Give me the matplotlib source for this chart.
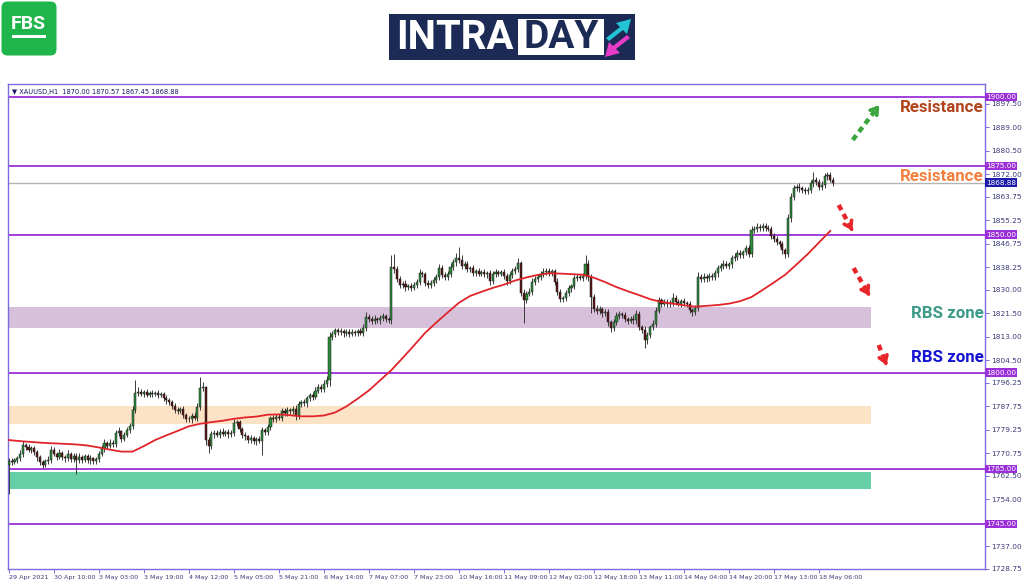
import numpy as np
import matplotlib
matplotlib.use("Agg")
import matplotlib.pyplot as plt
from matplotlib.patches import Rectangle, FancyBboxPatch, Polygon

# ---------------------------------------------------------------- data
# hourly closes of XAUUSD, one row = 16 bars (one x label step)
closes = [
    1768.0, 1767.5, 1768.3, 1768.8, 1770.5, 1773.6, 1773.0, 1772.0, 1772.6, 1771.0, 1769.2, 1767.4, 1766.6, 1767.8, 1768.4, 1772.0,
    1770.6, 1769.4, 1770.8, 1769.2, 1768.9, 1770.6, 1768.7, 1769.8, 1768.2, 1769.5, 1768.4, 1769.6, 1768.1, 1768.9, 1767.8, 1768.6,
    1770.4, 1772.5, 1774.4, 1773.4, 1774.6, 1774.0, 1777.9, 1778.6, 1776.0, 1777.4, 1779.0, 1780.6, 1786.4, 1792.6, 1792.9, 1792.3,
    1792.8, 1792.0, 1792.6, 1792.2, 1792.7, 1791.9, 1792.1, 1790.8, 1789.9, 1789.2, 1788.0, 1786.3, 1786.0, 1786.8, 1784.6, 1783.2,
    1783.0, 1784.4, 1783.5, 1787.5, 1794.4, 1794.7, 1775.5, 1773.4, 1777.6, 1778.2, 1777.4, 1778.5, 1777.8, 1778.4, 1777.6, 1778.2,
    1781.7, 1781.9, 1779.6, 1777.2, 1776.8, 1775.4, 1776.2, 1775.0, 1775.8, 1775.3, 1779.0, 1778.4, 1780.2, 1783.4, 1783.0, 1784.0,
    1783.6, 1786.1, 1785.4, 1786.5, 1786.0, 1786.8, 1784.2, 1788.6, 1789.3, 1788.8, 1790.6, 1791.8, 1791.2, 1793.4, 1794.8, 1794.1,
    1796.0, 1797.2, 1812.9, 1814.0, 1815.3, 1814.6, 1815.0, 1814.2, 1814.8, 1814.0, 1814.6, 1814.3, 1814.9, 1814.5, 1816.2, 1820.3,
    1819.6, 1818.7, 1819.5, 1818.9, 1819.8, 1820.4, 1819.3, 1819.0, 1838.3, 1837.4, 1834.0, 1831.6, 1832.3, 1830.9, 1831.5, 1830.8,
    1831.8, 1832.9, 1836.0, 1835.6, 1832.6, 1831.8, 1832.5, 1833.4, 1834.5, 1838.0, 1835.4, 1834.8, 1835.6, 1838.2, 1840.0, 1841.6,
    1841.0, 1838.6, 1839.4, 1837.4, 1837.9, 1836.2, 1836.8, 1835.9, 1836.4, 1835.7, 1836.2, 1833.1, 1835.8, 1836.4, 1835.9, 1836.3,
    1835.1, 1833.2, 1835.4, 1836.8, 1837.5, 1839.6, 1829.0, 1826.3, 1828.6, 1829.4, 1832.8, 1834.0, 1834.6, 1835.8, 1836.5, 1837.0,
    1836.2, 1836.7, 1833.0, 1829.4, 1826.6, 1826.9, 1828.8, 1830.6, 1831.4, 1834.2, 1834.8, 1834.3, 1835.0, 1839.2, 1834.5, 1827.4,
    1823.2, 1822.4, 1823.0, 1821.5, 1822.0, 1818.2, 1816.0, 1818.4, 1820.6, 1821.2, 1820.8, 1819.4, 1818.8, 1819.6, 1818.9, 1821.2,
    1816.4, 1815.6, 1811.8, 1813.5, 1816.4, 1817.6, 1822.5, 1826.2, 1825.0, 1825.6, 1824.8, 1825.4, 1827.2, 1825.6, 1825.0, 1825.8,
    1825.2, 1824.8, 1822.6, 1821.8, 1823.4, 1834.7, 1834.0, 1834.8, 1834.2, 1835.0, 1834.5, 1836.0, 1837.8, 1838.6, 1839.4, 1838.8,
    1839.2, 1841.4, 1842.0, 1843.2, 1842.6, 1843.6, 1845.2, 1843.0, 1851.7, 1852.0, 1852.8, 1852.4, 1853.2, 1852.6, 1852.2, 1849.6,
    1848.4, 1847.2, 1846.5, 1844.4, 1843.0, 1856.0, 1863.7, 1867.0, 1867.5, 1866.8, 1866.2, 1865.8, 1866.4, 1868.6, 1869.8, 1869.2,
    1867.4, 1868.0, 1871.2, 1871.6, 1870.0, 1868.88,
]
first_open = 1766.5

# wick lengths above / below the body
up_wick = [
    0.8, 1.1, 0.6, 0.9, 1.3, 1.4, 0.7, 1.0, 0.8, 0.6, 0.9, 0.7, 1.0, 0.8, 1.2, 1.5,
    0.9, 0.7, 1.3, 0.8, 1.0, 1.4, 0.6, 1.1, 0.9, 1.2, 0.7, 1.0, 0.8, 1.3, 0.6, 0.9,
    1.0, 1.2, 1.5, 0.8, 1.1, 0.9, 1.4, 1.6, 0.7, 1.0, 1.3, 1.2, 1.5, 4.7, 2.0, 1.1,
    0.9, 1.2, 0.8, 1.0, 0.7, 1.1, 0.9, 0.8, 1.2, 0.7, 1.0, 0.9, 1.3, 0.8, 1.0, 0.7,
    1.1, 0.9, 1.2, 1.6, 4.0, 2.0, 0.5, 1.2, 1.0, 0.8, 1.1, 0.9, 1.2, 0.7, 1.0, 0.8,
    1.3, 1.0, 0.9, 0.8, 1.1, 0.7, 1.0, 0.9, 0.8, 1.2, 1.4, 1.0, 1.1, 0.9, 1.3, 0.8,
    1.0, 1.2, 0.9, 1.1, 0.8, 1.0, 1.3, 1.1, 0.9, 1.2, 1.0, 0.8, 1.1, 1.3, 0.9, 1.0,
    1.2, 1.4, 1.8, 1.2, 1.0, 0.9, 1.1, 0.8, 1.0, 0.9, 1.2, 0.8, 1.0, 1.1, 1.4, 1.6,
    1.0, 0.9, 1.2, 0.8, 1.1, 1.3, 0.9, 1.0, 4.3, 4.6, 1.2, 1.0, 0.9, 1.1, 0.8, 1.0,
    1.2, 1.1, 1.4, 1.0, 0.9, 1.1, 1.0, 1.2, 1.3, 1.5, 1.0, 0.9, 1.2, 1.4, 1.3, 1.6,
    4.0, 1.8, 1.2, 1.0, 0.9, 1.1, 0.8, 1.0, 0.9, 1.2, 0.8, 1.0, 1.1, 1.3, 0.9, 1.0,
    1.1, 0.9, 1.2, 1.3, 1.0, 1.9, 1.0, 1.3, 1.1, 1.2, 1.4, 1.0, 1.1, 1.2, 1.3, 1.0,
    1.1, 0.9, 1.0, 1.2, 0.8, 1.0, 1.1, 1.3, 0.9, 1.2, 1.0, 0.8, 1.2, 3.3, 1.5, 1.2,
    1.1, 1.4, 1.0, 0.9, 1.2, 1.0, 0.8, 1.1, 1.3, 1.0, 0.9, 1.2, 0.8, 1.0, 1.1, 1.4,
    1.0, 0.9, 1.2, 1.1, 1.0, 1.3, 1.4, 1.2, 1.0, 1.1, 0.9, 1.0, 1.5, 1.1, 0.9, 1.0,
    1.2, 0.8, 1.0, 0.9, 1.1, 1.6, 1.0, 1.2, 0.9, 1.1, 1.0, 1.3, 1.2, 1.0, 1.4, 1.1,
    1.0, 1.3, 1.2, 1.1, 1.4, 1.0, 1.2, 1.0, 1.5, 1.1, 1.3, 1.0, 1.2, 0.9, 1.0, 1.1,
    0.9, 1.2, 1.0, 1.1, 0.8, 1.4, 1.6, 1.2, 1.0, 1.1, 0.9, 1.2, 1.0, 1.3, 3.0, 1.2,
    1.1, 1.4, 1.2, 1.0, 1.3, 0.9,
]
dn_wick = [
    10.5, 0.9, 0.7, 1.1, 0.8, 1.0, 1.2, 0.9, 1.1, 0.8, 1.3, 1.0, 1.2, 0.8, 0.9, 1.1,
    1.0, 1.2, 0.8, 1.1, 1.3, 0.9, 1.0, 1.2, 5.2, 0.9, 1.1, 0.8, 1.0, 1.2, 0.9, 1.1,
    1.0, 0.8, 1.2, 1.1, 0.9, 1.0, 1.2, 0.8, 1.3, 1.0, 0.9, 1.1, 1.2, 1.0, 1.3, 0.9,
    1.1, 0.8, 1.0, 1.2, 0.9, 1.1, 0.8, 1.0, 1.3, 0.9, 1.1, 1.0, 1.2, 0.8, 1.1, 1.3,
    1.0, 1.2, 0.9, 1.1, 1.0, 1.2, 1.8, 2.6, 1.0, 1.2, 0.9, 1.1, 1.0, 0.8, 1.2, 0.9,
    1.1, 1.0, 1.2, 0.9, 1.3, 1.0, 1.1, 0.9, 1.2, 1.0, 5.3, 1.1, 0.9, 1.2, 1.0, 1.1,
    0.9, 1.1, 1.0, 1.2, 0.9, 1.0, 1.3, 1.1, 1.0, 0.9, 1.2, 1.0, 1.1, 0.8, 1.0, 1.2,
    1.0, 1.1, 2.0, 1.2, 1.0, 1.1, 0.9, 1.2, 1.0, 1.1, 0.9, 1.0, 1.2, 0.9, 1.1, 1.0,
    1.2, 1.0, 1.1, 0.9, 1.2, 1.0, 1.1, 1.0, 1.5, 1.2, 1.3, 1.1, 1.0, 1.2, 0.9, 1.1,
    1.0, 1.2, 1.1, 1.0, 1.3, 1.1, 1.0, 1.2, 0.9, 1.1, 1.0, 1.2, 1.1, 0.9, 1.0, 1.2,
    1.1, 1.0, 1.2, 0.9, 1.1, 1.0, 1.2, 0.9, 1.0, 1.1, 1.3, 1.4, 1.0, 1.1, 0.9, 1.0,
    1.2, 1.3, 1.0, 1.1, 0.9, 1.0, 1.2, 8.3, 1.1, 1.0, 1.2, 0.9, 1.0, 1.1, 1.0, 1.2,
    1.0, 1.1, 1.2, 1.3, 1.0, 1.1, 0.9, 1.0, 1.2, 1.0, 1.1, 0.9, 1.0, 1.2, 1.4, 5.8,
    1.3, 1.1, 1.0, 1.2, 0.9, 1.4, 1.2, 1.0, 1.1, 1.2, 1.0, 0.9, 1.1, 1.0, 1.2, 1.3,
    1.1, 1.2, 2.8, 1.4, 1.0, 1.1, 1.2, 1.0, 1.1, 0.9, 1.0, 1.2, 1.1, 1.0, 0.9, 1.1,
    1.0, 1.2, 1.1, 1.3, 1.0, 1.2, 1.1, 1.0, 1.2, 0.9, 1.1, 1.0, 1.2, 1.1, 1.0, 0.9,
    1.1, 1.2, 1.0, 1.1, 1.2, 1.0, 0.9, 1.2, 1.0, 1.1, 1.0, 1.2, 0.9, 1.1, 1.0, 1.3,
    1.2, 1.1, 1.0, 1.3, 1.5, 1.0, 1.2, 1.1, 1.0, 1.2, 0.9, 1.1, 1.0, 1.2, 1.1, 1.0,
    1.2, 1.1, 1.0, 1.2, 1.0, 1.1,
]

# moving average read every 4 bars
ma_step = 4
ma_values = [
    1775.5, 1775.1, 1774.8, 1774.5, 1774.3, 1774.1, 1773.9, 1773.5, 1772.8, 1772.0,
    1771.3, 1771.3, 1773.3, 1775.5, 1777.2, 1778.8, 1780.5, 1781.4, 1782.0, 1782.5,
    1783.2, 1783.7, 1784.0, 1784.7, 1784.8, 1784.5, 1784.1, 1784.1, 1784.4, 1785.5,
    1787.7, 1790.5, 1793.5, 1797.2, 1800.9, 1805.3, 1809.8, 1814.4, 1818.2, 1821.8,
    1825.3, 1827.8, 1829.3, 1830.7, 1831.9, 1833.4, 1834.5, 1835.4, 1836.0, 1835.9,
    1835.7, 1835.5, 1834.4, 1832.8, 1831.0, 1829.5, 1828.1, 1826.6, 1825.6, 1825.0,
    1824.4, 1823.9, 1824.2, 1824.5, 1825.0, 1825.9, 1827.4, 1830.0, 1832.7, 1835.5,
    1839.2, 1843.0, 1847.2, 1851.4,
]

x_labels = ["29 Apr 2021", "30 Apr 10:00", "3 May 03:00", "3 May 19:00", "4 May 12:00",
            "5 May 05:00", "5 May 21:00", "6 May 14:00", "7 May 07:00", "7 May 23:00",
            "10 May 16:00", "11 May 09:00", "12 May 02:00", "12 May 18:00", "13 May 11:00",
            "14 May 04:00", "14 May 20:00", "17 May 13:00", "18 May 06:00"]
bars_per_label = 16

y_ticks = [1897.50, 1889.00, 1880.50, 1872.00, 1863.75, 1855.25, 1846.75, 1838.25,
           1830.00, 1821.50, 1813.00, 1804.50, 1796.25, 1787.75, 1779.25, 1770.75,
           1762.50, 1754.00, 1737.00, 1728.75]

levels = [1900.0, 1875.0, 1850.0, 1800.0, 1765.0, 1745.0]
last_price = 1868.88

zone_purple = (1816.2, 1823.8)
zone_orange = (1781.3, 1787.8)
zone_green = (1757.7, 1763.9)

# ---------------------------------------------------------------- colours
LEVEL_C = "#9b30d9"
FRAME_C = "#7b6be0"
UP_C = "#2f8a3a"
DN_C = "#5a1616"

closes = np.array(closes)
opens = np.concatenate([[first_open], closes[:-1]])
highs = np.maximum(opens, closes) + np.array(up_wick)
lows = np.minimum(opens, closes) - np.array(dn_wick)
idx = np.arange(len(closes))

fig = plt.figure(figsize=(10.24, 5.87), dpi=100)
ax = fig.add_axes([8 / 1024, 1 - 569 / 587, 977 / 1024, 485 / 587])
ax.set_xlim(-0.3, 347.0)
ax.set_ylim(1728.7, 1904.7)

# zones
zone_right = 306.4
for (lo, hi), c in [(zone_purple, "#d6c0da"), (zone_orange, "#fde3c6"), (zone_green, "#66cfa6")]:
    ax.add_patch(Rectangle((-0.3, lo), zone_right + 0.3, hi - lo, color=c, lw=0, zorder=1))

# levels
for lv in levels:
    ax.axhline(lv, color=LEVEL_C, lw=1.3, zorder=2)
ax.axhline(last_price, color="#b4b4b4", lw=1.0, zorder=2)

# candles
up = closes >= opens
ax.vlines(idx, lows, highs, color="#3a3a3a", lw=0.7, zorder=3)
body = np.maximum(np.abs(closes - opens), 0.25)
ax.bar(idx[up], body[up], bottom=np.minimum(opens, closes)[up], width=0.74,
       color=UP_C, edgecolor="#1a1a1a", linewidth=0.35, zorder=4)
ax.bar(idx[~up], body[~up], bottom=np.minimum(opens, closes)[~up], width=0.74,
       color=DN_C, edgecolor="#1a1a1a", linewidth=0.35, zorder=4)

# moving average
ma_x = np.arange(len(ma_values)) * ma_step
ax.plot(ma_x, ma_values, color="#e0242a", lw=1.3, zorder=5)

# axes styling
for s in ax.spines.values():
    s.set_color(FRAME_C)
    s.set_linewidth(1.0)
ax.yaxis.tick_right()
ax.set_yticks(y_ticks)
ax.set_yticklabels([f"{v:.2f}" for v in y_ticks])
ax.set_xticks(np.arange(len(x_labels)) * bars_per_label)
ax.set_xticklabels(x_labels)
ax.tick_params(axis="both", colors=FRAME_C, labelcolor="#3c3c7a", length=3, width=0.7, pad=1.5)
ax.tick_params(axis="y", labelsize=5.3)
ax.tick_params(axis="x", labelsize=4.6)
for lab in ax.get_xticklabels():
    lab.set_horizontalalignment("left")

# boxed price labels on the right
ytr = ax.get_yaxis_transform()
for lv in levels:
    ax.text(1.001, lv, f"{lv:.2f}", transform=ytr, fontsize=5.2, color="white",
            va="center", ha="left", zorder=10, clip_on=False,
            bbox=dict(boxstyle="square,pad=0.18", fc=LEVEL_C, ec="none"))
ax.text(1.001, last_price, f"{last_price:.2f}", transform=ytr, fontsize=5.2, color="white",
        va="center", ha="left", zorder=10, clip_on=False,
        bbox=dict(boxstyle="square,pad=0.18", fc="#1c1ca8", ec="none"))

# header line
ax.text(0.004, 0.984, "\u25BC XAUUSD,H1  1870.00 1870.57 1867.45 1868.88",
        transform=ax.transAxes, fontsize=4.8, color="#1a1a6a", va="center", ha="left")

# labels
lab_kw = dict(fontfamily="Roboto", fontweight="bold", fontsize=12.2, ha="right", va="center",
              transform=ytr, zorder=10)
ax.text(0.9985, 1896.0, "Resistance", color="#b2431c", **lab_kw)
ax.text(0.9985, 1871.0, "Resistance", color="#f2803e", **lab_kw)
ax.text(0.9985, 1821.5, "RBS zone", color="#3c9a88", **lab_kw)
ax.text(0.9985, 1805.5, "RBS zone", color="#1414d2", **lab_kw)


# dashed arrows
def dashed_arrow(x0, y0, x1, y1, color):
    fx, fy = x0 + 0.78 * (x1 - x0), y0 + 0.78 * (y1 - y0)
    ax.plot([x0, fx], [y0, fy], color=color, lw=3.2, ls=(0, (1.3, 1.0)),
            solid_capstyle="butt", zorder=8, clip_on=False)
    ax.annotate("", xy=(x1, y1), xytext=(fx, fy),
                arrowprops=dict(arrowstyle="->,head_length=0.45,head_width=0.3",
                                color=color, lw=2.6), zorder=8)


dashed_arrow(300.0, 1884.4, 310.0, 1897.8, "#3aa53a")
dashed_arrow(295.0, 1860.8, 300.3, 1850.6, "#e8262a")
dashed_arrow(300.3, 1837.9, 306.4, 1827.0, "#e8262a")
dashed_arrow(309.2, 1810.0, 312.0, 1802.7, "#e8262a")

# ---------------------------------------------------------------- logos
ov = fig.add_axes([0, 0, 1, 1], zorder=20)
ov.set_xlim(0, 1024)
ov.set_ylim(587, 0)
ov.axis("off")

ov.add_patch(FancyBboxPatch((3, 3), 52, 51, boxstyle="round,pad=1.5,rounding_size=6",
                            fc="#20b54a", ec="none"))
ov.text(28.5, 24, "FBS", color="white", fontsize=14, fontweight="bold",
        ha="center", va="center", fontfamily="Roboto")
ov.add_patch(Rectangle((12, 35), 34, 2.5, fc="white", ec="none"))

ov.add_patch(Rectangle((389, 14), 246, 46, fc="#1b2b55", ec="none"))
ov.add_patch(Rectangle((518, 19), 86, 36, fc="white", ec="none"))
ov.text(455, 38, "INTRA", color="white", fontsize=29, fontweight="bold",
        ha="center", va="center", fontfamily="Roboto")
ov.text(561, 38, "DAY", color="#1b2b55", fontsize=28, fontweight="bold",
        ha="center", va="center", fontfamily="Roboto")
ov.add_patch(Polygon([(606, 38), (620, 27), (616, 23), (631, 19), (627, 34), (623, 30), (609, 41)],
                     closed=True, fc="#22c4d6", ec="none"))
ov.add_patch(Polygon([(630, 38), (616, 49), (620, 53), (605, 57), (609, 42), (613, 46), (627, 35)],
                     closed=True, fc="#e83cc8", ec="none"))

fig.savefig("out.png", dpi=100)
